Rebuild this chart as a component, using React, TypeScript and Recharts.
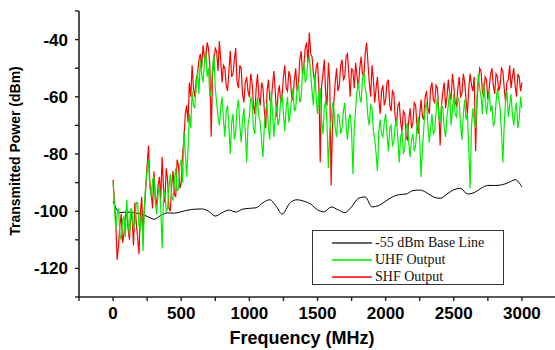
import React from "react";
import { LineChart, Line, XAxis, YAxis, Legend, Label } from "recharts";

// Sampling grid (MHz) for the two measured outputs
const sampleFreqs: number[] = Array.from({ length: 301 }, (_, i) => i * 10);

// SHF output (dBm), 10 MHz steps
const shfValues: number[] = [
  -89, -97, -104, -117, -112, -105, -101, -111, -108, -102, -99, -106, -110, -100, -103, -112, -97, -104, -109, -115,
  -101, -95, -107, -99, -92, -84, -77, -90, -94, -99, -86, -95, -98, -91, -88, -96, -81, -92, -97, -85,
  -89, -99, -100, -91, -86, -94, -95, -82, -84, -92, -90, -80, -75, -66, -63, -69, -55, -60, -49, -57,
  -60, -54, -52, -47, -45, -50, -42, -46, -47, -41, -43, -49, -74, -52, -48, -43, -44, -51, -40.5, -47,
  -55, -49, -50, -56, -58, -51, -44, -53, -52, -47, -43, -55, -57, -49, -50, -59, -62, -55, -53, -58,
  -60, -52, -55, -63, -66, -57, -52, -60, -63, -55, -57, -65, -71, -58, -54, -61, -62, -56, -51, -58,
  -67, -59, -56, -62, -60, -53, -49, -57, -58, -51, -53, -60, -61, -54, -50, -58, -56, -47, -44, -52,
  -49, -43, -41, -48, -37.5, -45, -46, -52, -55, -50, -48, -57, -83, -56, -52, -47, -59, -63, -48, -55,
  -91, -70, -62, -55, -50, -58, -56, -49, -47, -54, -53, -46, -45, -52, -60, -50, -51, -57, -48, -53,
  -57, -50, -46, -52, -53, -45, -41, -48, -55, -60, -49, -54, -62, -57, -53, -61, -66, -58, -56, -63,
  -61, -55, -54, -63, -65, -58, -59, -67, -70, -63, -62, -69, -72, -65, -66, -74, -75, -68, -64, -71,
  -69, -62, -63, -70, -73, -66, -61, -67, -68, -60, -58, -64, -66, -57, -55, -61, -62, -56, -57, -65,
  -77, -63, -58, -55, -64, -60, -54, -59, -61, -52, -56, -62, -63, -57, -53, -60, -59, -52, -55, -61,
  -66, -57, -52, -56, -58, -53, -79, -62, -55, -50, -51, -58, -60, -53, -54, -61, -57, -52, -50, -56,
  -59, -52, -53, -58, -56, -50, -51, -57, -62, -55, -54, -49, -57, -53, -50, -56, -60, -52, -53, -58,
  -55,
];

// UHF output (dBm), 10 MHz steps
const uhfValues: number[] = [
  -90, -98, -106, -101, -99, -108, -110, -103, -102, -109, -96, -104, -108, -99, -100, -106, -104, -97, -97, -105,
  -106, -100, -114, -98, -90, -86, -82, -92, -95, -89, -88, -97, -101, -94, -91, -99, -113, -96, -93, -100,
  -99, -92, -87, -95, -96, -89, -85, -93, -92, -84, -82, -90, -72, -80, -88, -78, -66, -71, -58, -63,
  -64, -56, -51, -59, -47, -52, -55, -48, -44, -53, -50, -60, -58, -49, -45, -57, -62, -67, -70, -64,
  -60, -68, -74, -65, -63, -71, -80, -69, -66, -75, -72, -64, -61, -70, -76, -68, -64, -72, -83, -70,
  -67, -60, -62, -71, -73, -64, -60, -67, -69, -76, -81, -70, -65, -62, -71, -75, -58, -66, -74, -67,
  -63, -70, -68, -61, -59, -66, -72, -64, -60, -69, -66, -61, -57, -65, -64, -58, -55, -62, -60, -52,
  -48, -55, -53, -47, -46, -52, -58, -63, -52, -60, -66, -59, -57, -68, -73, -64, -61, -70, -85, -72,
  -68, -62, -64, -71, -74, -66, -67, -73, -71, -65, -62, -70, -75, -68, -66, -72, -87, -71, -64, -58,
  -55, -60, -62, -54, -51, -57, -60, -67, -70, -63, -64, -72, -75, -80, -86, -72, -68, -73, -74, -69,
  -66, -73, -79, -71, -70, -77, -76, -70, -68, -75, -83, -74, -72, -80, -78, -71, -69, -76, -81, -75,
  -73, -79, -77, -70, -67, -75, -88, -78, -71, -64, -62, -70, -76, -71, -66, -73, -72, -65, -60, -67,
  -69, -63, -64, -71, -74, -67, -63, -58, -70, -65, -59, -66, -67, -60, -62, -70, -75, -66, -61, -68,
  -66, -78, -92, -70, -64, -69, -71, -60, -52, -57, -60, -66, -55, -61, -66, -62, -58, -65, -63, -70,
  -69, -62, -57, -61, -64, -72, -83, -70, -61, -58, -67, -63, -59, -66, -70, -65, -62, -71, -68, -60,
  -64,
];

// -55 dBm base line
const baseFreqs: number[] = [
  0, 50, 100, 150, 200, 250, 300, 350, 400, 450, 500, 550, 600, 650, 700, 750,
  800, 850, 900, 950, 1000, 1050, 1100, 1150, 1200, 1240, 1300, 1350, 1400,
  1450, 1500, 1550, 1600, 1650, 1700, 1750, 1800, 1850, 1900, 1950, 2000, 2050,
  2100, 2150, 2200, 2250, 2300, 2350, 2400, 2450, 2500, 2550, 2600, 2650, 2700,
  2750, 2800, 2850, 2900, 2950, 3000,
];
const baseValues: number[] = [
  -96.5, -100.5, -100.3, -100.5, -101, -101.8, -102.8, -101.5, -100.6, -100.7,
  -100.2, -99.6, -99.3, -99.2, -100, -101.7, -100.5, -99.6, -100.3, -99.3, -99,
  -98.8, -97, -96, -98.5, -101, -97, -96, -96.5, -97.5, -99.5, -100.2, -98.5,
  -99.5, -100.5, -98.5, -95.5, -95, -98.5, -98, -96.5, -95, -94.2, -94, -92.8,
  -92.6, -93.5, -95, -95.5, -94, -92.5, -92, -94, -93.5, -92, -91, -91, -90.8,
  -90, -89, -91.5,
];

const xTicks: number[] = [-250, 0, 250, 500, 750, 1000, 1250, 1500, 1750, 2000, 2250, 2500, 2750, 3000, 3250];
const xLabelTicks: number[] = [0, 500, 1000, 1500, 2000, 2500, 3000];
const yTicks: number[] = [-130, -120, -110, -100, -90, -80, -70, -60, -50, -40, -30];
const yLabelTicks: number[] = [-120, -100, -80, -60, -40];

const seriesNames = ["-55 dBm Base Line", "UHF Output", "SHF Output"];
const seriesColors = ["#000000", "#00ee00", "#ff0000"];

const shfData = sampleFreqs.map((f, i) => ({ f, v: shfValues[i] }));
const uhfData = sampleFreqs.map((f, i) => ({ f, v: uhfValues[i] }));
const baseData = baseFreqs.map((f, i) => ({ f, v: baseValues[i] }));

const FONT = "Arial, 'Liberation Sans', Helvetica, sans-serif";
const AXIS = "#222";

const LegendBox = () => (
  <div
    style={{
      width: 192,
      height: 55,
      boxSizing: "border-box",
      border: "1px solid #333",
      background: "#fff",
      paddingTop: 3,
      fontFamily: "'Times New Roman', 'Liberation Serif', serif",
      fontSize: 14,
      color: "#111",
    }}
  >
    {seriesNames.map((name, i) => (
      <div key={name} style={{ height: 17, display: "flex", alignItems: "center", paddingLeft: 19 }}>
        <svg width={40} height={4} style={{ display: "block" }}>
          <line
            x1={0}
            x2={40}
            y1={2}
            y2={2}
            stroke={i === 0 ? "#666" : seriesColors[i]}
            strokeWidth={i === 0 ? 2 : 1.3}
          />
        </svg>
        <span style={{ marginLeft: 3, lineHeight: "17px", whiteSpace: "nowrap" }}>{name}</span>
      </div>
    ))}
  </div>
);

export default function App() {
  return (
    <div
      style={{
        position: "absolute",
        left: 0,
        top: 0,
        width: 555,
        height: 350,
        overflow: "hidden",
        background: "#fff",
      }}
    >
      <LineChart width={560} height={350} margin={{ top: 11, right: 4, left: 0, bottom: 0 }}>
        <XAxis
          xAxisId="bottom"
          dataKey="f"
          type="number"
          domain={[-250, 3250]}
          ticks={xTicks}
          interval={0}
          allowDataOverflow
          height={53}
          tickSize={4}
          tickMargin={6}
          axisLine={{ stroke: AXIS, strokeWidth: 1.6 }}
          tickLine={{ stroke: AXIS, strokeWidth: 1.4 }}
          tick={{ fill: "#000", fontSize: 17, fontWeight: 700, fontFamily: FONT }}
          tickFormatter={(v: number) => (xLabelTicks.includes(v) ? String(v) : "")}
        >
          <Label
            content={() => (
              <text x={302} y={344} textAnchor="middle" fontFamily={FONT} fontSize={18} fontWeight={700} fill="#000">
                Frequency (MHz)
              </text>
            )}
          />
        </XAxis>
        <XAxis
          xAxisId="top"
          orientation="top"
          dataKey="f"
          type="number"
          domain={[-250, 3250]}
          ticks={xTicks}
          interval={0}
          allowDataOverflow
          height={0}
          tickSize={4}
          axisLine={{ stroke: AXIS, strokeWidth: 1.6 }}
          tickLine={{ stroke: AXIS, strokeWidth: 1.4 }}
          tick={false}
        />
        <YAxis
          type="number"
          domain={[-130, -30]}
          ticks={yTicks}
          interval={0}
          allowDataOverflow
          width={79}
          tickSize={4}
          tickMargin={7}
          axisLine={{ stroke: AXIS, strokeWidth: 1.6 }}
          tickLine={{ stroke: AXIS, strokeWidth: 1.4 }}
          tick={{ fill: "#000", fontSize: 17, fontWeight: 700, fontFamily: FONT }}
          tickFormatter={(v: number) => (yLabelTicks.includes(v) ? String(v) : "")}
        >
          <Label
            content={() => (
              <text
                x={15}
                y={151}
                textAnchor="middle"
                dominantBaseline="central"
                transform="rotate(-90 15 151)"
                fontFamily={FONT}
                fontSize={14}
                fontWeight={700}
                fill="#000"
              >
                Transmitted Power (dBm)
              </text>
            )}
          />
        </YAxis>
        <Line
          xAxisId="bottom"
          data={baseData}
          dataKey="v"
          name={seriesNames[0]}
          type="monotone"
          stroke={seriesColors[0]}
          strokeWidth={1}
          dot={false}
          activeDot={false}
          isAnimationActive={false}
        />
        <Line
          xAxisId="bottom"
          data={shfData}
          dataKey="v"
          name={seriesNames[2]}
          type="linear"
          stroke={seriesColors[2]}
          strokeWidth={1.2}
          dot={false}
          activeDot={false}
          isAnimationActive={false}
        />
        <Line
          xAxisId="bottom"
          data={uhfData}
          dataKey="v"
          name={seriesNames[1]}
          type="linear"
          stroke={seriesColors[1]}
          strokeWidth={1.2}
          dot={false}
          activeDot={false}
          isAnimationActive={false}
        />
        <Legend
          layout="horizontal"
          verticalAlign="middle"
          align="center"
          content={() => <LegendBox />}
          wrapperStyle={{ left: 312, top: 230, width: 192, height: 55 }}
        />
      </LineChart>
    </div>
  );
}
